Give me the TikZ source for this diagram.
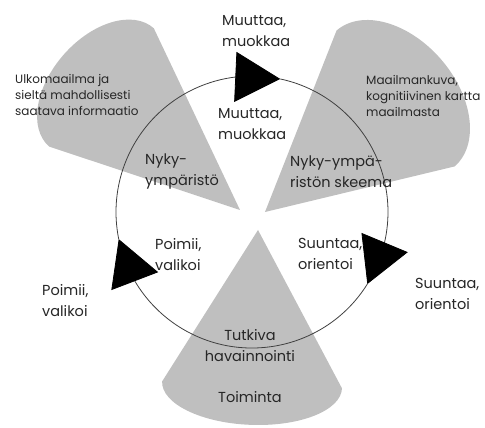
\documentclass[tikz,border=0pt]{standalone}
\usepackage{fontspec}
\setmainfont{Poppins}
\usetikzlibrary{arrows.meta, bending}

\begin{document}
\begin{tikzpicture}[x=1pt, y=1pt,
  cone/.style={fill=black!25, draw=none},
  lbl/.style={anchor=west, align=left, text=black!85, inner sep=0pt,
              font=\fontsize{14.5}{21}\selectfont},
  small/.style={anchor=west, align=left, text=black!85, inner sep=0pt,
                font=\fontsize{12}{16}\selectfont},
  ring/.style={draw=black!75, line width=0.8pt},
  arr/.style={ring, -{Triangle[length=45pt, width=50pt, color=black]}}]

  \useasboundingbox (-252,-216) rectangle (233,212);

  \fill[cone, shift={(-12,2)}, rotate=138.5]
    (0,0) -- (185,-79) arc[start angle=-90, end angle=90, x radius=50, y radius=79] -- cycle;
  \fill[cone, shift={(13,0)}, rotate=41]
    (0,0) -- (173,-90) arc[start angle=-90, end angle=90, x radius=60, y radius=90] -- cycle;
  \fill[cone, shift={(6,-18)}, rotate=267.8]
    (0,0) -- (155,-90) arc[start angle=-90, end angle=90, x radius=40, y radius=90] -- cycle;

  \coordinate (tipT) at (78:136);
  \coordinate (tipR) at (-32:136);
  \coordinate (tipL) at (191.5:136);

  \draw[arr] (tipL) arc[start angle=191.5, end angle=78, radius=136];
  \draw[arr] (tipT) arc[start angle=78, end angle=-32, radius=136];
  \draw[arr] (tipR) arc[start angle=-32, end angle=-168.5, radius=136];

  \node[lbl] (muutOut) at (-30,181) {Muuttaa,\\muokkaa};
  \node[lbl] (muutIn) at (-34,88) {Muuttaa,\\muokkaa};
  \node[small] (ulko) at (-237,117) {Ulkomaailma ja\\sieltä mahdollisesti\\saatava informaatio};
  \node[small] (maail) at (114,116) {Maailmankuva,\\kognitiivinen kartta\\maailmasta};
  \node[lbl] (nyky) at (-107,40) {Nyky-\\ympäristö};
  \node[lbl] (skeema) at (38,40) {Nyky-ympä-\\ristön skeema};
  \node[lbl] (poimIn) at (-97,-43) {Poimii,\\valikoi};
  \node[lbl] (poimOut) at (-210,-89) {Poimii,\\valikoi};
  \node[lbl] (suunIn) at (46,-42) {Suuntaa,\\orientoi};
  \node[lbl] (suunOut) at (163,-82) {Suuntaa,\\orientoi};
  \node[lbl, anchor=center, align=center] (tutki) at (-2,-134) {Tutkiva\\havainnointi};
  \node[lbl, anchor=center] (toim) at (-2,-185) {Toiminta};

\end{tikzpicture}
\end{document}
